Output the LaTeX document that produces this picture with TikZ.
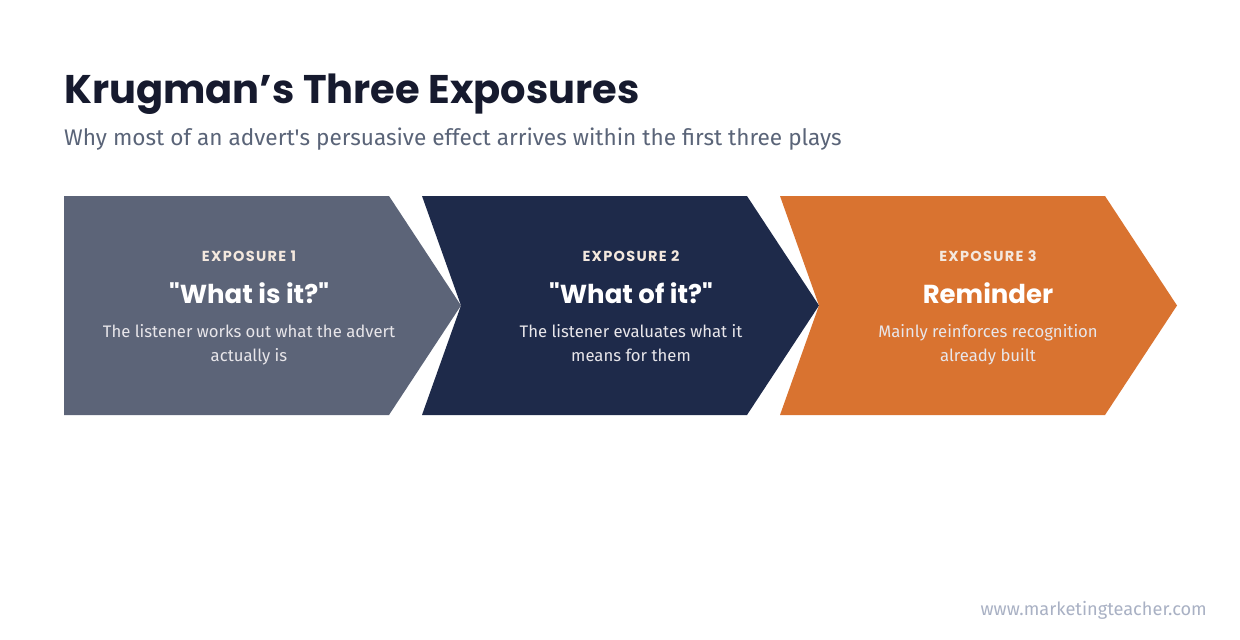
\documentclass[tikz,border=0pt]{standalone}
\usepackage{fontspec}
\setmainfont{Fira Sans}
\newfontfamily\headfont{Poppins}
\newfontfamily\capsfont[LetterSpace=9]{Poppins}
\definecolor{titlec}{HTML}{161A2E}
\definecolor{subc}{HTML}{5A6478}
\definecolor{cA}{HTML}{5C6478}
\definecolor{cB}{HTML}{1E2A4A}
\definecolor{cC}{HTML}{D97330}
\definecolor{lbl}{HTML}{F4E8DE}
\definecolor{bodyc}{HTML}{E8E6EA}
\definecolor{footc}{HTML}{A9B1C4}
\tikzset{
  steplabel/.style={text=lbl, font=\capsfont\bfseries\fontsize{14.5}{16}\selectfont, anchor=center},
  stephead/.style={text=white, font=\headfont\bfseries\fontsize{26}{30}\selectfont, anchor=center},
  stepbody/.style={text=bodyc, font=\fontsize{16.7}{24}\selectfont, align=center, anchor=north, inner sep=0pt},
}
\begin{document}
\begin{tikzpicture}[x=1pt,y=-1pt]
\useasboundingbox (0,0) rectangle (1240,640);
\fill[white] (0,0) rectangle (1240,640);
% title
\node[anchor=base west, inner sep=0pt, text=titlec, font=\headfont\bfseries\fontsize{40}{46}\selectfont] (title) at (64,103) {Krugman’s Three Exposures};
\node[anchor=base west, inner sep=0pt, text=subc, font=\fontsize{22.6}{26}\selectfont] (sub) at (64,145) {Why most of an advert\textquotesingle s persuasive effect arrives within the first three plays};
% chevrons
\fill[cA] (64,196) -- (389,196) -- (461,305.5) -- (389,415) -- (64,415) -- cycle;
\fill[cB] (422,196) -- (747,196) -- (819,305.5) -- (747,415) -- (422,415) -- (461,305.5) -- cycle;
\fill[cC] (780,196) -- (1105,196) -- (1177,305.5) -- (1105,415) -- (780,415) -- (819,305.5) -- cycle;
% texts
\node[steplabel] (c1) at (249,256) {EXPOSURE 1};
\node[stephead] (h1) at (249,293) {"What is it?"};
\node[stepbody] (b1) at (249,324) {The listener works out what the advert\\actually is};
\node[steplabel] (c2) at (631,256) {EXPOSURE 2};
\node[stephead] (h2) at (631,293) {"What of it?"};
\node[stepbody] (b2) at (631,324) {The listener evaluates what it\\means for them};
\node[steplabel] (c3) at (988,256) {EXPOSURE 3};
\node[stephead] (h3) at (988,293) {Reminder};
\node[stepbody] (b3) at (988,324) {Mainly reinforces recognition\\already built};
% footer
\node[anchor=base east, inner sep=0pt, text=footc, font=\fontsize{18.2}{20}\selectfont] (foot) at (1207,615) {www.marketingteacher.com};
\end{tikzpicture}
\end{document}
